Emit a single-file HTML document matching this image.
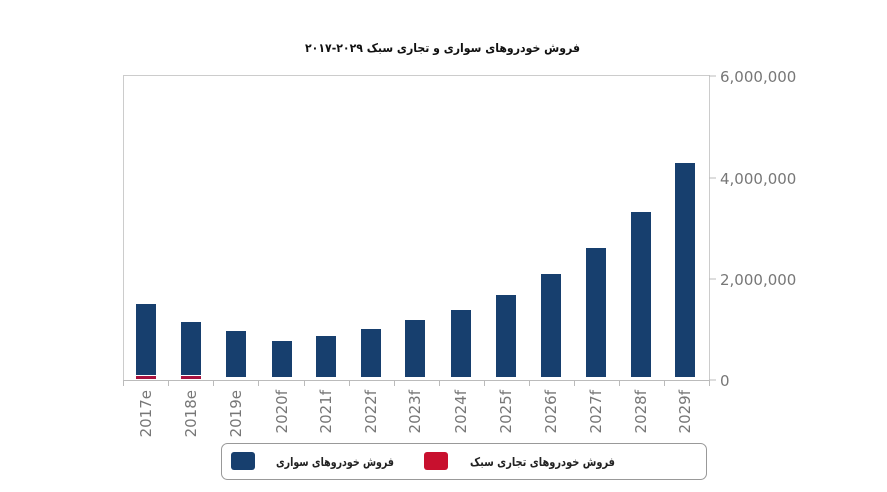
<!DOCTYPE html>
<html><head><meta charset="utf-8"><style>
body{margin:0;background:#fff;}
svg{display:block;}
</style></head><body>
<svg width="887" height="492" xmlns="http://www.w3.org/2000/svg" font-family="'Liberation Sans','DejaVu Sans',sans-serif">
<rect width="887" height="492" fill="#fff"/>
<text x="580" y="52" text-anchor="start" direction="rtl" font-size="12" font-weight="bold" fill="#111" font-family="'DejaVu Sans','Liberation Sans',sans-serif" textLength="275" lengthAdjust="spacingAndGlyphs">فروش خودروهای سواری و تجاری سبک ۲۰۲۹-۲۰۱۷</text>
<path d="M123.5 380V75.5H709.5V380" fill="none" stroke="#ccc" stroke-width="1"/>
<line x1="123" y1="380.5" x2="710" y2="380.5" stroke="#bbb"/>
<g stroke="#bbb">
<line x1="709" y1="76" x2="716" y2="76"/><line x1="709" y1="178" x2="716" y2="178"/><line x1="709" y1="279" x2="716" y2="279"/><line x1="709" y1="380" x2="716" y2="380"/>
<line x1="123.5" y1="380" x2="123.5" y2="386"/><line x1="168.5" y1="380" x2="168.5" y2="386"/><line x1="213.5" y1="380" x2="213.5" y2="386"/><line x1="258.5" y1="380" x2="258.5" y2="386"/><line x1="304.5" y1="380" x2="304.5" y2="386"/><line x1="349.5" y1="380" x2="349.5" y2="386"/><line x1="394.5" y1="380" x2="394.5" y2="386"/><line x1="439.5" y1="380" x2="439.5" y2="386"/><line x1="484.5" y1="380" x2="484.5" y2="386"/><line x1="529.5" y1="380" x2="529.5" y2="386"/><line x1="574.5" y1="380" x2="574.5" y2="386"/><line x1="619.5" y1="380" x2="619.5" y2="386"/><line x1="664.5" y1="380" x2="664.5" y2="386"/><line x1="709.5" y1="380" x2="709.5" y2="386"/>
</g>
<g fill="#777" font-size="15" font-family="'DejaVu Sans',sans-serif">
<text x="720" y="82">6,000,000</text><text x="720" y="184">4,000,000</text><text x="720" y="285">2,000,000</text><text x="720" y="386">0</text>
</g>
<g fill="#173f6e">
<rect x="136" y="304" width="20" height="71"/>
<rect x="181" y="322" width="20" height="53"/>
<rect x="226" y="331" width="20" height="46"/>
<rect x="272" y="341" width="20" height="36"/>
<rect x="316" y="336" width="20" height="41"/>
<rect x="361" y="329" width="20" height="48"/>
<rect x="405" y="320" width="20" height="57"/>
<rect x="451" y="310" width="20" height="67"/>
<rect x="496" y="295" width="20" height="82"/>
<rect x="541" y="274" width="20" height="103"/>
<rect x="586" y="248" width="20" height="129"/>
<rect x="631" y="212" width="20" height="165"/>
<rect x="675" y="163" width="20" height="214"/>
</g>
<g fill="#a8123e"><rect x="136" y="376" width="20" height="3"/><rect x="181" y="376" width="20" height="3"/></g>
<g fill="#777" font-size="15" font-family="'DejaVu Sans',sans-serif" text-anchor="end">
<text transform="translate(151,390) rotate(-90)">2017e</text>
<text transform="translate(196,390) rotate(-90)">2018e</text>
<text transform="translate(241,390) rotate(-90)">2019e</text>
<text transform="translate(287,390) rotate(-90)">2020f</text>
<text transform="translate(331,390) rotate(-90)">2021f</text>
<text transform="translate(376,390) rotate(-90)">2022f</text>
<text transform="translate(420,390) rotate(-90)">2023f</text>
<text transform="translate(466,390) rotate(-90)">2024f</text>
<text transform="translate(511,390) rotate(-90)">2025f</text>
<text transform="translate(556,390) rotate(-90)">2026f</text>
<text transform="translate(601,390) rotate(-90)">2027f</text>
<text transform="translate(646,390) rotate(-90)">2028f</text>
<text transform="translate(690,390) rotate(-90)">2029f</text>
</g>
<rect x="221.5" y="443.5" width="485" height="36" rx="6" fill="#fff" stroke="#999"/>
<rect x="231" y="452" width="24" height="18" rx="3" fill="#173f6e"/>
<rect x="424" y="452" width="24" height="18" rx="3" fill="#c8102e"/>
<g font-size="12" font-weight="bold" fill="#222" font-family="'DejaVu Sans',sans-serif">
<text x="394" y="466" direction="rtl" text-anchor="start" textLength="118" lengthAdjust="spacingAndGlyphs">فروش خودروهای سواری</text>
<text x="615" y="466" direction="rtl" text-anchor="start" textLength="145" lengthAdjust="spacingAndGlyphs">فروش خودروهای تجاری سبک</text>
</g>
</svg>
</body></html>
